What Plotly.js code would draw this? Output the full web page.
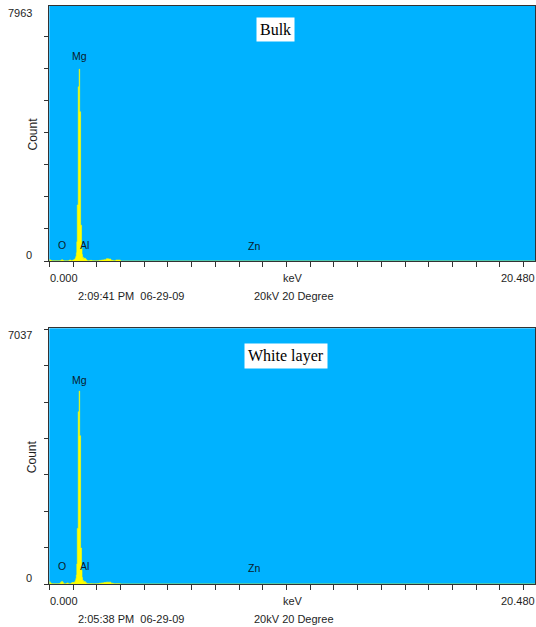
<!DOCTYPE html>
<html>
<head>
<meta charset="utf-8">
<script src="https://cdn.plot.ly/plotly-3.0.1.min.js"></script>
<style>html,body{margin:0;padding:0;background:#fff;}#chart{width:536px;height:627px;}</style>
</head>
<body>
<div id="chart"></div>
<script>
// ---- data ----
const energy = [0.00,0.04,0.08,0.12,0.16,0.20,0.24,0.28,0.32,0.36,0.40,0.44,0.48,0.52,0.56,0.60,0.64,0.68,0.72,0.76,0.80,0.84,0.88,0.92,0.96,1.00,1.04,1.08,1.10,1.12,1.14,1.16,1.18,1.20,1.22,1.24,1.26,1.28,1.30,1.32,1.34,1.36,1.38,1.40,1.44,1.48,1.52,1.56,1.60,1.70,1.80,1.90,2.00,2.10,2.20,2.30,2.40,2.50,2.60,2.70,2.80,3.00,20.48];
const countsBulk = [40,30,10,5,5,5,5,5,5,5,5,10,20,40,20,5,5,5,5,5,10,30,30,10,20,30,50,70,100,150,260,600,1750,1750,5440,5440,5990,4660,4660,1120,1120,420,200,120,70,90,60,30,10,20,10,5,10,20,30,40,70,60,20,10,30,0,0];
const countsWhite = [60,30,10,5,5,5,5,5,5,5,10,20,50,70,40,10,5,5,20,30,10,5,5,30,40,40,50,70,100,150,250,550,1530,1530,4740,4740,5310,4080,4080,990,990,380,180,100,60,70,40,20,10,10,5,5,10,20,30,40,50,50,20,10,10,0,0];
const panelTitles = ["Bulk", "White layer"];
const yMax = [7963, 7037];
const yMaxLabels = ["7963", "7037"];
const xTickLabels = ["0.000", "20.480"];
const xRange = [0, 20.48];
const xTitle = "keV";
const yTitle = "Count";
const timeStamps = ["2:09:41 PM  06-29-09", "2:05:38 PM  06-29-09"];
const conditions = "20kV 20 Degree";
const elements = ["O", "Mg", "Al", "Zn"];
const elementEnergy = [0.525, 1.253, 1.487, 8.63];

// ---- layout helpers (pixel -> paper) ----
const W = 536, H = 627;
const px = x => x / W;
const py = y => (H - y) / H;

const bg = "rgb(0,178,255)";
const font = "Liberation Sans, Arial, sans-serif";
const serif = "Liberation Serif, Times New Roman, serif";
const txt = "#1e1e1e";

// panel geometry: [top px, bottom px]
const panels = [[6, 261], [328.3, 584]];
const xL = 49.3, xR = 535;

const traces = [
  {x: energy, y: countsBulk, type: "scatter", mode: "lines", line: {shape: "hv", color: "#ffff00", width: 0.6}, fill: "tozeroy", fillcolor: "#ffff00", xaxis: "x", yaxis: "y", hoverinfo: "x+y"},
  {x: energy, y: countsWhite, type: "scatter", mode: "lines", line: {shape: "hv", color: "#ffff00", width: 0.6}, fill: "tozeroy", fillcolor: "#ffff00", xaxis: "x2", yaxis: "y2", hoverinfo: "x+y"}
];

function xax(anchor) {
  return {domain: [px(xL), px(xR)], range: xRange, anchor: anchor, tick0: 0, dtick: 1,
    ticks: "outside", ticklen: 5, tickcolor: "#333", tickwidth: 1, showticklabels: false,
    showgrid: false, zeroline: false, showline: true, linecolor: "#333", linewidth: 1, mirror: true, fixedrange: true};
}
function yax(anchor, i) {
  return {domain: [py(panels[i][1]), py(panels[i][0])], range: [0, yMax[i]], anchor: anchor, tick0: 0, dtick: 1000,
    ticks: "outside", ticklen: 4, tickcolor: "#333", tickwidth: 1, showticklabels: false,
    showgrid: false, zeroline: false, showline: true, linecolor: "#333", linewidth: 1, mirror: true, fixedrange: true};
}

const annotations = [];
const labelYFrac = {"O": [0.063, 0.070], "Mg": [0.805, 0.798], "Al": [0.063, 0.070], "Zn": [0.059, 0.064]};
panels.forEach((p, i) => {
  const xr = i === 0 ? "x" : "x2";
  const yd = i === 0 ? "y domain" : "y2 domain";
  const top = p[0], bot = p[1];
  // element labels
  elements.forEach((el, k) => {
    annotations.push({x: elementEnergy[k], xref: xr, y: labelYFrac[el][i], yref: yd, text: el, showarrow: false,
      font: {family: font, size: 10.5, color: "#0a1a2a"}, xanchor: "center", yanchor: "middle"});
  });
  // panel title box
  annotations.push({x: px(i === 0 ? 275.3 : 286.4), xref: "paper", y: py(i === 0 ? top + 23.7 : top + 28), yref: "paper",
    text: panelTitles[i], showarrow: false, bgcolor: "#ffffff", borderpad: 3,
    font: {family: serif, size: 16, color: "#000"}, xanchor: "center", yanchor: "middle"});
  // y labels
  annotations.push({x: px(34), xref: "paper", y: py(top + 7), yref: "paper", text: yMaxLabels[i], showarrow: false,
    font: {family: font, size: 11, color: txt}, xanchor: "right", yanchor: "middle"});
  annotations.push({x: px(34), xref: "paper", y: py(bot - 6), yref: "paper", text: "0", showarrow: false,
    font: {family: font, size: 11, color: txt}, xanchor: "right", yanchor: "middle"});
  annotations.push({x: px(32), xref: "paper", y: py((top + bot) / 2 + 1), yref: "paper", text: yTitle, textangle: -90, showarrow: false,
    font: {family: font, size: 12, color: txt}, xanchor: "center", yanchor: "middle"});
  // x labels
  annotations.push({x: px(48), xref: "paper", y: py(bot + 16.5), yref: "paper", text: xTickLabels[0], showarrow: false,
    font: {family: font, size: 11, color: txt}, xanchor: "left", yanchor: "middle"});
  annotations.push({x: px(537), xref: "paper", y: py(bot + 16.5), yref: "paper", text: xTickLabels[1], showarrow: false,
    font: {family: font, size: 11, color: txt}, xanchor: "right", yanchor: "middle"});
  annotations.push({x: px(292.5), xref: "paper", y: py(bot + 16.5), yref: "paper", text: xTitle, showarrow: false,
    font: {family: font, size: 11, color: txt}, xanchor: "center", yanchor: "middle"});
  annotations.push({x: px(75.5), xref: "paper", y: py(bot + 34.5), yref: "paper", text: timeStamps[i].replace("  ", "&nbsp;&nbsp;"), showarrow: false,
    font: {family: font, size: 11, color: txt}, xanchor: "left", yanchor: "middle"});
  annotations.push({x: px(251.5), xref: "paper", y: py(bot + 34.5), yref: "paper", text: conditions, showarrow: false,
    font: {family: font, size: 11, color: txt}, xanchor: "left", yanchor: "middle"});
});

const layout = {
  width: W, height: H, margin: {l: 0, r: 0, t: 0, b: 0},
  paper_bgcolor: "#ffffff", plot_bgcolor: bg, showlegend: false,
  xaxis: xax("y"), yaxis: yax("x", 0),
  xaxis2: xax("y2"), yaxis2: yax("x2", 1),
  annotations: annotations,
  font: {family: font}
};

Plotly.newPlot("chart", traces, layout, {displayModeBar: false, staticPlot: true});
</script>
</body>
</html>
